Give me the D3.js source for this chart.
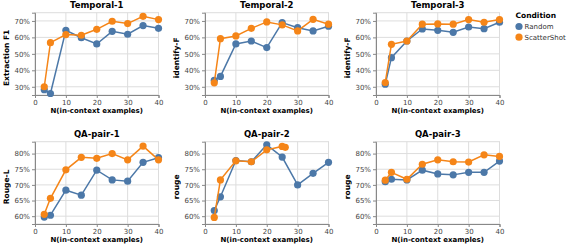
<!DOCTYPE html>
<html>
<head>
<meta charset="utf-8">
<script src="https://cdn.jsdelivr.net/npm/d3@7"></script>
<style>
  body { margin: 0; background: #fff; }
  svg { display: block; font-family: "DejaVu Sans", sans-serif; }
</style>
</head>
<body>
<script>
// x values (number of in-context examples)
var xSteps = [3, 5, 10, 15, 20, 25, 30, 35, 40];

// panel titles and y axis titles
var panelTitles = ["Temporal-1", "Temporal-2", "Temporal-3", "QA-pair-1", "QA-pair-2", "QA-pair-3"];
var yTitles = ["Extraction F1", "identify-F", "identify-F", "Rouge-L", "rouge", "rouge"];

// tick labels per row
var rowTicks = [[0.3, 0.4, 0.5, 0.6, 0.7], [0.6, 0.65, 0.7, 0.75, 0.8]];
var rowDomains = [[0.25, 0.75], [0.575, 0.838]];
var xTicks = [0, 10, 20, 30, 40];

// series values, one list per panel
var randomVals = [
  [0.282, 0.259, 0.643, 0.598, 0.560, 0.637, 0.619, 0.672, 0.655],
  [0.339, 0.363, 0.560, 0.578, 0.538, 0.690, 0.659, 0.639, 0.668],
  [0.316, 0.477, 0.578, 0.651, 0.643, 0.631, 0.663, 0.653, 0.692],
  [0.597, 0.603, 0.683, 0.667, 0.747, 0.716, 0.712, 0.772, 0.787],
  [0.618, 0.662, 0.778, 0.774, 0.828, 0.789, 0.700, 0.737, 0.772],
  [0.710, 0.718, 0.716, 0.747, 0.735, 0.732, 0.740, 0.740, 0.776]
];
var scatterVals = [
  [0.300, 0.568, 0.617, 0.613, 0.649, 0.698, 0.684, 0.728, 0.708],
  [0.324, 0.592, 0.609, 0.655, 0.694, 0.676, 0.639, 0.710, 0.680],
  [0.326, 0.558, 0.578, 0.680, 0.682, 0.680, 0.708, 0.692, 0.708],
  [0.606, 0.657, 0.748, 0.788, 0.785, 0.800, 0.780, 0.824, 0.780],
  [0.596, 0.716, 0.777, 0.774, 0.812, 0.823, 0.820],
  [0.715, 0.740, 0.718, 0.766, 0.780, 0.774, 0.773, 0.796, 0.791]
];
// QA-pair-2 ScatterShot stops early and has a point at 26
var scatterX = [xSteps, xSteps, xSteps, xSteps, [3, 5, 10, 15, 20, 25, 26], xSteps];

var conditions = ["Random", "ScatterShot"];
var colors = ["#4c78a8", "#f58518"];

var W = 568, H = 248;
var colLeft = [35, 205, 376];
var rowTop = [12.7, 141.7];
var pw = 123.5, ph = 82.3;

var svg = d3.select("body").append("svg")
  .attr("width", W).attr("height", H);

var color = d3.scaleOrdinal().domain(conditions).range(colors);

panelTitles.forEach(function(title, i) {
  var row = Math.floor(i / 3), col = i % 3;
  var g = svg.append("g")
    .attr("transform", "translate(" + colLeft[col] + "," + rowTop[row] + ")");

  var x = d3.scaleLinear().domain([0, 40]).range([0, pw]);
  var y = d3.scaleLinear().domain(rowDomains[row]).range([ph, 0]);

  // frame
  g.append("rect").attr("width", pw).attr("height", ph)
    .attr("fill", "none").attr("stroke", "#ddd");

  // grid
  g.selectAll(".gx").data(xTicks).enter().append("line")
    .attr("x1", function(d) { return x(d); }).attr("x2", function(d) { return x(d); })
    .attr("y1", 0).attr("y2", ph).attr("stroke", "#ddd");
  g.selectAll(".gy").data(rowTicks[row]).enter().append("line")
    .attr("x1", 0).attr("x2", pw)
    .attr("y1", function(d) { return y(d); }).attr("y2", function(d) { return y(d); })
    .attr("stroke", "#ddd");

  // axes
  var xa = g.append("g").attr("transform", "translate(0," + ph + ")")
    .call(d3.axisBottom(x).tickValues(xTicks).tickSize(3).tickPadding(2));
  var ya = g.append("g")
    .call(d3.axisLeft(y).tickValues(rowTicks[row]).tickSize(3).tickPadding(2).tickFormat(d3.format(".0%")));
  [xa, ya].forEach(function(a) {
    a.select(".domain").attr("stroke", "#888");
    a.selectAll(".tick line").attr("stroke", "#888");
    a.selectAll("text").attr("fill", "#444").style("font-size", "7px")
      .style("font-family", "DejaVu Sans, sans-serif");
  });

  // titles
  g.append("text").attr("x", pw / 2).attr("y", -4.7)
    .attr("text-anchor", "middle").style("font-size", "8.5px").style("font-weight", "bold")
    .text(title);
  g.append("text").attr("x", pw / 2).attr("y", ph + 18.5)
    .attr("text-anchor", "middle").style("font-size", "7px").style("font-weight", "bold")
    .text("N(in-context examples)");
  g.append("text")
    .attr("transform", "translate(-26," + (ph / 2 + 4) + ") rotate(-90)")
    .attr("text-anchor", "middle").style("font-size", "7.5px").style("font-weight", "bold")
    .text(yTitles[i]);

  // series
  var series = [
    { name: "Random", xs: xSteps, ys: randomVals[i] },
    { name: "ScatterShot", xs: scatterX[i], ys: scatterVals[i] }
  ];
  series.forEach(function(s) {
    var pts = s.ys.map(function(v, k) { return [s.xs[k], v]; });
    var line = d3.line()
      .x(function(d) { return x(d[0]); })
      .y(function(d) { return y(d[1]); });
    g.append("path").datum(pts)
      .attr("d", line).attr("fill", "none")
      .attr("stroke", color(s.name)).attr("stroke-width", 1.5);
    g.selectAll(null).data(pts).enter().append("circle")
      .attr("cx", function(d) { return x(d[0]); })
      .attr("cy", function(d) { return y(d[1]); })
      .attr("r", 3.6)
      .attr("fill", color(s.name));
  });
});

// legend
var legend = svg.append("g").attr("transform", "translate(515.5,18)");
legend.append("text").style("font-size", "7.5px").style("font-weight", "bold").text("Condition");
conditions.forEach(function(c, i) {
  var lg = legend.append("g").attr("transform", "translate(0," + (8.5 + i * 10.7) + ")");
  lg.append("circle").attr("cx", 3.5).attr("cy", 0).attr("r", 3.6).attr("fill", color(c));
  lg.append("text").attr("x", 9).attr("y", 2.5).style("font-size", "7px").attr("fill", "#333").text(c);
});
</script>
</body>
</html>
